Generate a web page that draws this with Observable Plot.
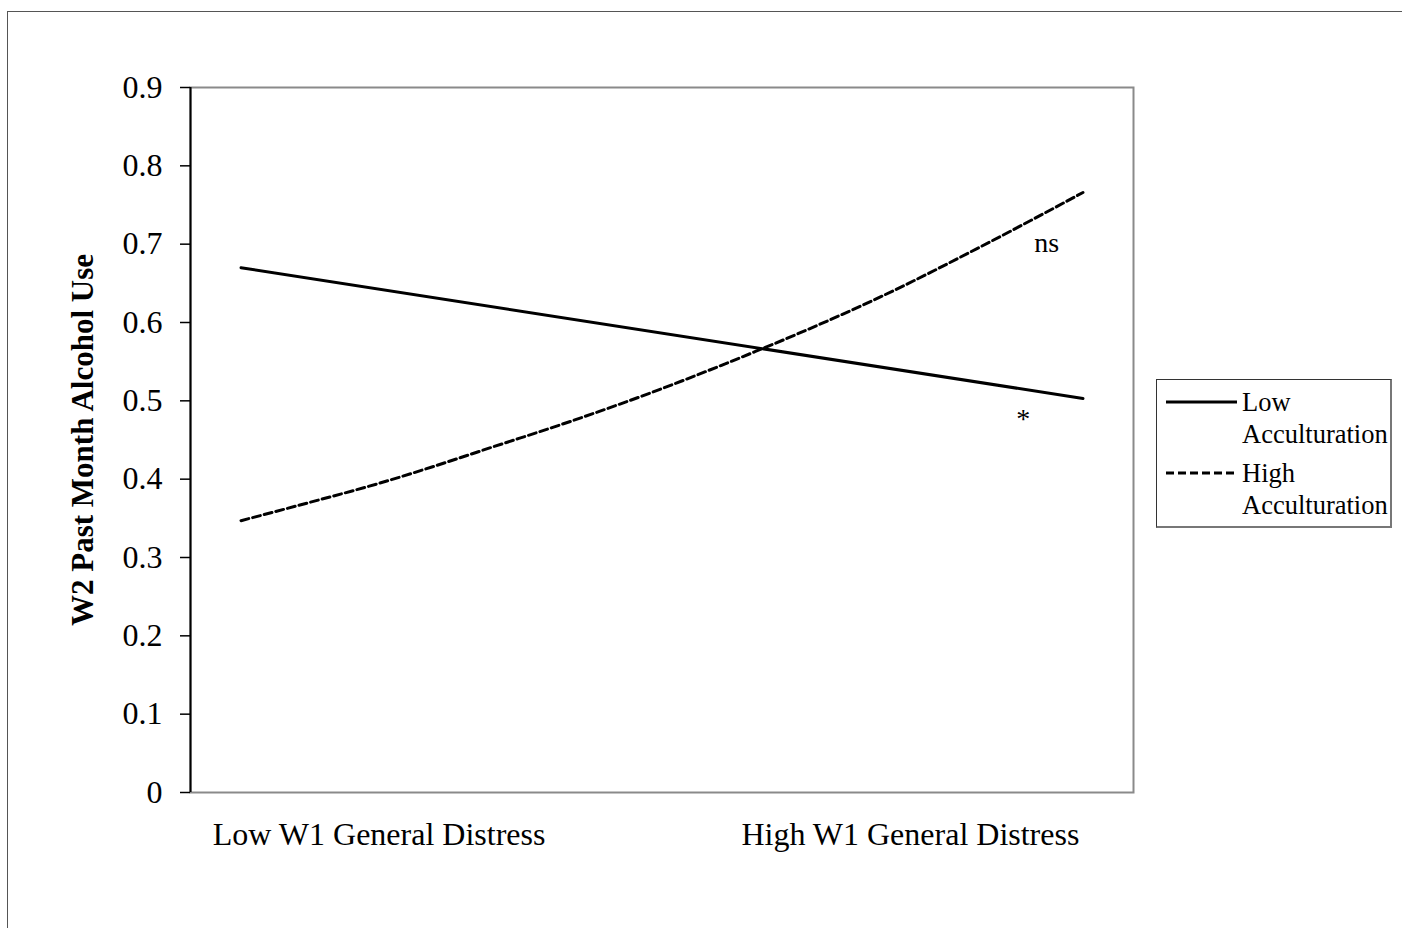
<!DOCTYPE html>
<html>
<head>
<meta charset="utf-8">
<script src="https://cdn.jsdelivr.net/npm/d3@7"></script>
<script src="https://cdn.jsdelivr.net/npm/@observablehq/plot@0.6"></script>
<style>
  html, body { margin: 0; padding: 0; background: #fff; overflow: hidden; }
  #wrap { position: relative; width: 1402px; height: 928px; font-family: "Liberation Serif", "Times New Roman", serif; }
  #outer { position: absolute; left: 7px; top: 11px; width: 2000px; height: 2000px; border-top: 1px solid #555; border-left: 1px solid #555; pointer-events: none; }
  #legend { position: absolute; left: 1156px; top: 379px; width: 236px; height: 149px; box-sizing: border-box; border: 1px solid #333; border-right: 2px solid #777; border-bottom: 2px solid #777; font-size: 26.5px; color: #000; }
  .entry { position: absolute; left: 9px; }
  .entry svg { position: absolute; left: 0; top: 0; }
  .entry .lab { position: absolute; left: 76px; top: 0; line-height: 32px; white-space: nowrap; }
</style>
</head>
<body>
<div id="wrap">
  <div id="chart"></div>
  <div id="legend"></div>
  <div id="outer"></div>
</div>
<script>
// ---- data ----
const seriesNames = ["Low Acculturation", "High Acculturation"];
const legendLines = [["Low", "Acculturation"], ["High", "Acculturation"]];
const lowX = [0, 1];
const lowY = [0.670, 0.503];
const highX = [0, 0.07, 0.165, 0.31, 0.392, 0.486, 0.611, 0.66, 0.76, 0.879, 1];
const highY = [0.347, 0.367, 0.395, 0.445, 0.474, 0.510, 0.563, 0.585, 0.633, 0.697, 0.766];
const xTickPos = [0.164, 0.795];
const xTickLabels = ["Low W1 General Distress", "High W1 General Distress"];
const yTicks = [0, 0.1, 0.2, 0.3, 0.4, 0.5, 0.6, 0.7, 0.8, 0.9];
const yLabel = "W2 Past Month Alcohol Use";
const noteText = ["ns", "*"];
const noteX = [0.957, 0.929];
const noteY = [0.702, 0.477];

const lowData = lowX.map((x, i) => ({x, y: lowY[i], s: seriesNames[0]}));
const highData = highX.map((x, i) => ({x, y: highY[i], s: seriesNames[1]}));
const notes = noteText.map((t, i) => ({t, x: noteX[i], y: noteY[i]}));

const font = "Liberation Serif, Times New Roman, serif";

const chart = Plot.plot({
  width: 1402,
  height: 928,
  marginLeft: 190,
  marginRight: 269,
  marginTop: 87,
  marginBottom: 136,
  style: {fontFamily: font, background: "#fff", color: "#000", overflow: "visible"},
  x: {domain: [-0.06, 1.06]},
  y: {domain: [0, 0.9]},
  marks: [
    Plot.frame({stroke: "#8a8a8a", strokeWidth: 2}),
    Plot.axisY({
      ticks: yTicks,
      tickFormat: d => d === 0 ? "0" : d3.format(".1f")(d),
      tickSize: 10,
      tickPadding: 18,
      fontSize: 32,
      stroke: "#000",
      strokeWidth: 1.5,
      label: null
    }),
    Plot.ruleX([-0.06], {stroke: "#000", strokeWidth: 2}),
    Plot.axisX({
      ticks: xTickPos,
      tickFormat: (d, i) => xTickLabels[xTickPos.indexOf(d)],
      tickSize: 0,
      tickPadding: 30,
      fontSize: 32,
      label: null
    }),
    Plot.text([yLabel], {
      frameAnchor: "left",
      text: d => d,
      rotate: -90,
      dx: -120,
      textAnchor: "middle",
      lineAnchor: "top",
      fontWeight: "bold",
      fontSize: 31,
      fill: "#000"
    }),
    Plot.line(lowData, {x: "x", y: "y", stroke: "#000", strokeWidth: 3}),
    Plot.line(highData, {x: "x", y: "y", stroke: "#000", strokeWidth: 3, strokeDasharray: "8,4", curve: "monotone-x"}),
    Plot.text(notes, {x: "x", y: "y", text: "t", fontSize: 28, fill: "#000"})
  ]
});
document.getElementById("chart").appendChild(chart);

// ---- legend ----
const legend = document.getElementById("legend");
const entryTops = [6, 77];
seriesNames.forEach((name, i) => {
  const e = document.createElement("div");
  e.className = "entry";
  e.style.top = entryTops[i] + "px";
  const dash = i === 1 ? ' stroke-dasharray="8,4"' : '';
  e.innerHTML = `<svg width="72" height="32"><line x1="0" x2="71" y1="16" y2="16" stroke="#000" stroke-width="3"${dash}/></svg>` +
    `<div class="lab">${legendLines[i].join("<br>")}</div>`;
  legend.appendChild(e);
});
</script>
</body>
</html>
